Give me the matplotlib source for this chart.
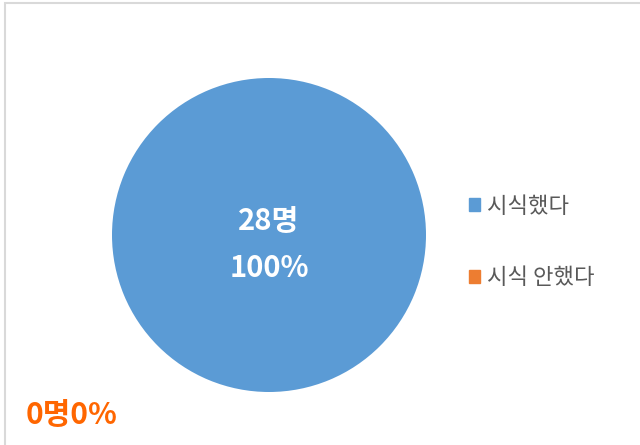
import matplotlib
matplotlib.use("Agg")
import matplotlib.pyplot as plt
from matplotlib.patches import Rectangle

plt.rcParams['font.family'] = ['Noto Sans CJK KR', 'DejaVu Sans']

# data
labels = ['시식했다', '시식 안했다']
counts = [28, 0]
colors = ['#5B9BD5', '#ED7D31']
total = sum(counts)
pcts = [c / total * 100 for c in counts]

W, H = 640, 445
fig = plt.figure(figsize=(W / 100, H / 100), dpi=100)

# chart frame
fig.patches.append(Rectangle((5 / W, -0.1), 1.2, 1 - 3 / H + 0.1,
                             transform=fig.transFigure, fill=False,
                             edgecolor='#D9D9D9', linewidth=1.5))

cx, cy, r = 269, 235, 157
ax = fig.add_axes([(cx - r) / W, (H - cy - r) / H, 2 * r / W, 2 * r / H])
wedges, _ = ax.pie(counts, colors=colors, startangle=90, counterclock=False,
                   radius=1, wedgeprops=dict(linewidth=0))
ax.set_xlim(-1, 1)
ax.set_ylim(-1, 1)
ax.set_aspect('equal')
ax.axis('off')

# label of the big slice
ax.text(0, 0.09, f'{counts[0]}명', ha='center', va='center', color='white',
        fontsize=21, fontweight='bold')
ax.text(0, -0.21, f'{pcts[0]:.0f}%', ha='center', va='center', color='white',
        fontsize=21, fontweight='bold')

# label of the empty slice, pushed to the corner
fig.text(72 / W, 1 - 415 / H, f'{counts[1]}명{pcts[1]:.0f}%', ha='center',
         va='center', color='#FF6600', fontsize=21.5, fontweight='bold')

handles = [Rectangle((0, 0), 1, 1, color=c) for c in colors]
fig.legend(handles, labels, loc='center left',
           bbox_to_anchor=(449 / W, 1 - 242 / H), frameon=False,
           fontsize=16, labelcolor='#595959', handlelength=0.5,
           handleheight=0.5, handletextpad=0.3, labelspacing=2.2)

fig.savefig('out.png', dpi=100)
